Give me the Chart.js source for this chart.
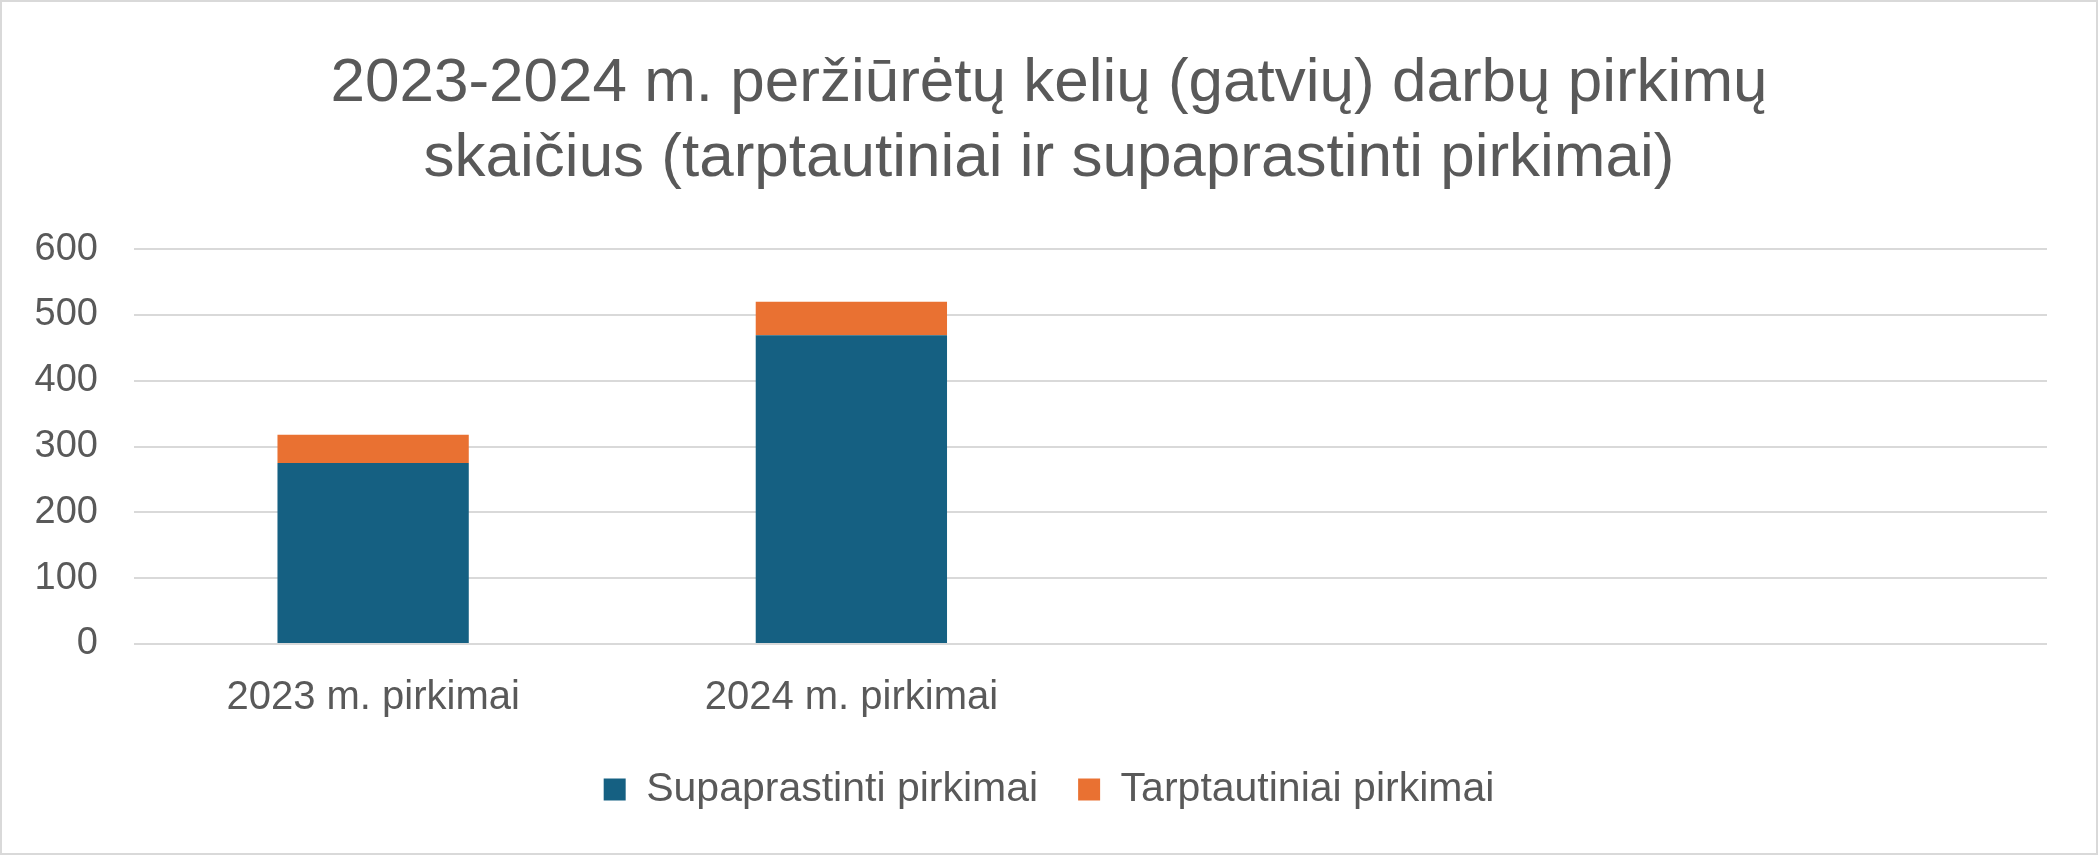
<!DOCTYPE html>
<html>
<head>
<meta charset="utf-8">
<script src="https://cdn.jsdelivr.net/npm/chart.js@4.4.1/dist/chart.umd.min.js"></script>
<style>
  html, body { margin: 0; padding: 0; background: #fff; }
  #wrap {
    width: 2098px; height: 855px; box-sizing: border-box;
    border: 2px solid #d9d9d9; position: relative;
  }
</style>
</head>
<body>
<div id="wrap"><canvas id="myChart"></canvas></div>
<script>
// data
const categories = ['2023 m. pirkimai', '2024 m. pirkimai', '', ''];
const supaprastinti = [275, 469, null, null];
const tarptautiniai = [43, 51, null, null];
const yTicks = [0, 100, 200, 300, 400, 500, 600];

const textColor = '#595959';
const gridColor = '#d9d9d9';
const fontFamily = '"Liberation Sans", Arial, sans-serif';

Chart.defaults.font.family = fontFamily;
Chart.defaults.color = textColor;

const data = {
    labels: categories,
    datasets: [{
        label: 'Supaprastinti pirkimai',
        backgroundColor: '#156082',
        data: supaprastinti,
    }, {
        label: 'Tarptautiniai pirkimai',
        backgroundColor: '#E97132',
        data: tarptautiniai,
    }]
};

const config = {
    type: 'bar',
    data: data,
    options: {
        responsive: true,
        maintainAspectRatio: false,
        animation: false,
        devicePixelRatio: 1,
        layout: { padding: { left: 0, right: 0, top: 0, bottom: 33 } },
        datasets: {
            bar: { categoryPercentage: 1, barPercentage: 0.4 }
        },
        plugins: {
            title: {
                display: true,
                text: ['2023-2024 m. peržiūrėtų kelių (gatvių) darbų pirkimų',
                       'skaičius (tarptautiniai ir supaprastinti pirkimai)'],
                color: textColor,
                font: { size: 62, weight: 'normal', lineHeight: 1.21 },
                padding: { top: 44, bottom: 53 }
            },
            legend: {
                position: 'bottom',
                labels: {
                    color: textColor,
                    font: { size: 41 },
                    boxWidth: 22,
                    boxHeight: 22,
                    padding: 40
                }
            },
            tooltip: { enabled: false }
        },
        scales: {
            x: {
                stacked: true,
                grid: { display: false },
                border: { display: false },
                ticks: { color: textColor, font: { size: 40 }, padding: 22, maxRotation: 0 },
                afterFit: function (axis) { axis.height = 85; }
            },
            y: {
                stacked: true,
                min: 0,
                max: 600,
                afterBuildTicks: function (axis) {
                    axis.ticks = yTicks.map(v => ({ value: v }));
                },
                grid: { color: gridColor, lineWidth: 2, drawTicks: false },
                border: { display: false },
                ticks: { color: textColor, font: { size: 38 }, padding: 36 },
                afterFit: function (axis) { axis.width = 132; }
            },
            // empty right-hand spacer so the plot ends where the reference does
            spacer: {
                type: 'linear',
                position: 'right',
                display: true,
                grid: { display: false },
                border: { display: false },
                ticks: { display: false },
                afterFit: function (axis) { axis.width = 49; }
            }
        }
    }
};

const myChart = new Chart(document.getElementById('myChart').getContext('2d'), config);
</script>
</body>
</html>
